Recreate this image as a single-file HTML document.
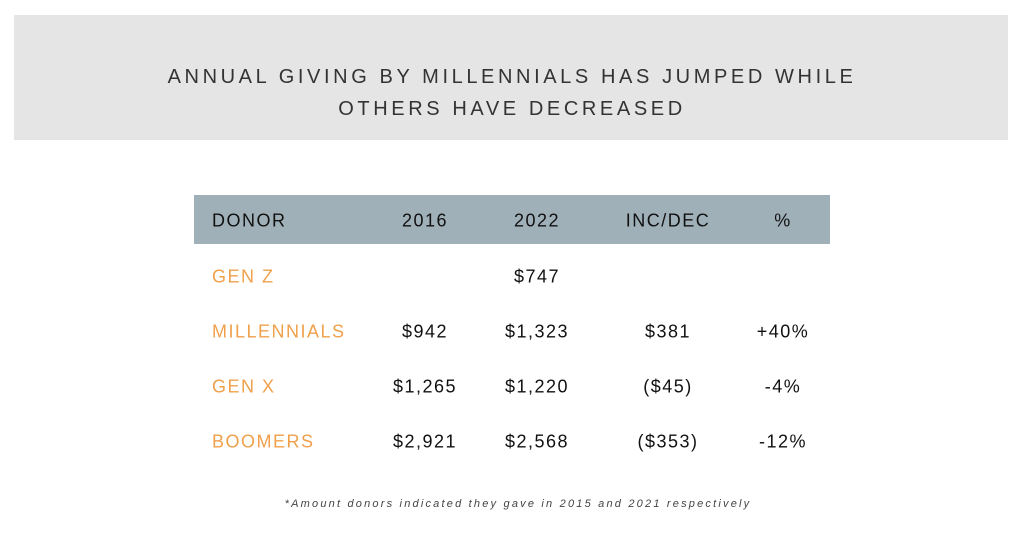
<!DOCTYPE html>
<html><head><meta charset="utf-8"><style>
body{margin:0;width:1024px;height:550px;background:#fff;position:relative;overflow:hidden;font-family:"Liberation Sans",sans-serif}
#banner{position:absolute;left:14px;top:15px;width:994px;height:125px;background:#e5e5e5}
.title{position:absolute;left:0;width:1024px;text-align:center;font-size:20px;letter-spacing:3.6px;color:#333}
#hdr{position:absolute;left:194px;top:195px;width:636px;height:49px;background:#9fb0b8}
.c{position:absolute;font-size:18px;letter-spacing:1.5px;color:#111;white-space:nowrap;transform:translate(-50%,-50%)}
.l{transform:translate(0,-50%)}
.o{color:#f0a04b}
#foot{position:absolute;left:0;width:1036px;top:498px;text-align:center;font-style:italic;font-size:11px;letter-spacing:2.2px;color:#444}
</style></head><body>
<div id="banner"></div>
<div class="title" style="top:66px">ANNUAL GIVING BY MILLENNIALS HAS JUMPED WHILE</div>
<div class="title" style="top:98px">OTHERS HAVE DECREASED</div>
<div id="hdr"></div>
<div id="foot">*Amount donors indicated they gave in 2015 and 2021 respectively</div>
<script>
const headers=["DONOR","2016","2022","INC/DEC","%"];
const donors=["GEN Z","MILLENNIALS","GEN X","BOOMERS"];
const v2016=["","$942","$1,265","$2,921"];
const v2022=["$747","$1,323","$1,220","$2,568"];
const incdec=["","$381","($45)","($353)"];
const pct=["","+40%","-4%","-12%"];
const colX=[212,425,537,668,783];
const rowY0=277, rowStep=55, hdrY=221;
function cell(txt,x,y,cls,name){
  const d=document.createElement('div');
  d.className='c '+cls;
  d.style.left=x+'px';d.style.top=y+'px';d.textContent=txt;
  
  
  document.body.appendChild(d);
}
headers.forEach((h,i)=>cell(h,colX[i],hdrY,i==0?'l':'','header-'+h.toLowerCase().replace(/[^a-z0-9]+/g,'-')));
const cols=[v2016,v2022,incdec,pct];
donors.forEach((dn,r)=>{
  const y=rowY0+r*rowStep;
  cell(dn,colX[0],y,'l o','donor-'+dn.toLowerCase().replace(/ /g,'-'));
  cols.forEach((c,i)=>{ if(c[r]) cell(c[r],colX[i+1],y,'','cell-'+headers[i+1].toLowerCase().replace(/[^a-z0-9]+/g,'-')+'-row-'+(r+1)); });
});
</script>
</body></html>
